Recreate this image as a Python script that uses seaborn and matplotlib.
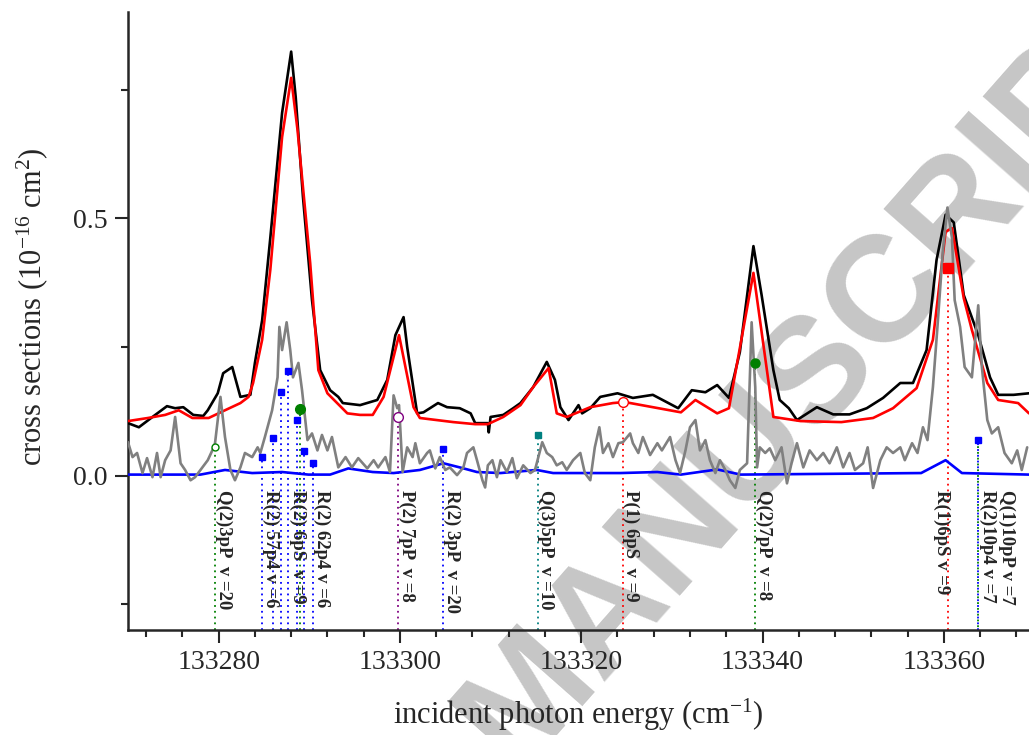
import numpy as np
import pandas as pd
import seaborn as sns
import matplotlib.pyplot as plt
from matplotlib.ticker import MultipleLocator

# measured cross section (black)
black_e = [133270.0, 133271.2, 133272.7, 133274.3, 133275.2, 133276.1, 133277.2, 133278.3, 133278.8, 133279.9,
           133280.5, 133281.5, 133282.4, 133283.5, 133284.0, 133284.8, 133285.7, 133287.0, 133288.0, 133288.5,
           133289.3, 133290.3, 133291.2, 133292.3, 133293.2, 133293.7, 133295.6, 133297.5, 133298.6, 133299.5,
           133300.4, 133300.8, 133301.9, 133302.6, 133304.2, 133305.2, 133306.6, 133307.8, 133308.3, 133309.7,
           133309.8, 133310.0, 133311.4, 133312.5, 133313.3, 133314.7, 133316.2, 133317.1, 133317.7, 133318.6,
           133319.7, 133320.1, 133321.0, 133322.1, 133324.0, 133325.7, 133327.9, 133330.7, 133332.2, 133333.7,
           133335.0, 133336.3, 133337.5, 133339.0, 133339.9, 133341.2, 133341.9, 133342.9, 133343.8, 133346.0,
           133347.8, 133349.6, 133351.5, 133353.3, 133355.2, 133356.6, 133358.1, 133359.2, 133360.2, 133361.1,
           133362.2, 133363.8, 133365.1, 133366.0, 133367.7, 133369.4]
black_y = [0.102, 0.094, 0.114, 0.135, 0.131, 0.133, 0.118, 0.116, 0.127, 0.160,
           0.199, 0.211, 0.153, 0.157, 0.219, 0.302, 0.462, 0.705, 0.824, 0.736,
           0.542, 0.341, 0.205, 0.166, 0.153, 0.141, 0.137, 0.147, 0.186, 0.273,
           0.308, 0.250, 0.121, 0.123, 0.141, 0.133, 0.131, 0.121, 0.102, 0.102,
           0.084, 0.114, 0.118, 0.131, 0.141, 0.172, 0.221, 0.186, 0.133, 0.108,
           0.137, 0.121, 0.131, 0.153, 0.160, 0.151, 0.157, 0.131, 0.166, 0.162,
           0.176, 0.151, 0.240, 0.446, 0.351, 0.205, 0.147, 0.131, 0.108, 0.133,
           0.119, 0.119, 0.131, 0.151, 0.180, 0.180, 0.244, 0.419, 0.507, 0.492,
           0.351, 0.273, 0.191, 0.157, 0.157, 0.160]

# calculated cross section (red)
red_e = [133270.0, 133272.2, 133274.1, 133275.6, 133277.1, 133278.9, 133280.7, 133282.4, 133283.3, 133283.8,
         133284.8, 133285.7, 133287.0, 133288.0, 133288.7, 133290.1, 133291.0, 133292.0, 133294.2, 133295.6,
         133297.0, 133298.2, 133299.9, 133301.5, 133302.2, 133305.9, 133308.3, 133309.7, 133311.4, 133313.3,
         133314.7, 133316.4, 133317.3, 133318.4, 133321.0, 133323.5, 133324.8, 133331.0, 133332.6, 133335.0,
         133336.3, 133339.0, 133341.2, 133344.2, 133348.7, 133352.2, 133354.4, 133357.0, 133358.8, 133360.2,
         133360.9, 133362.2, 133363.1, 133364.8, 133366.0, 133368.2, 133369.4]
red_y = [0.106, 0.112, 0.118, 0.127, 0.112, 0.112, 0.127, 0.141, 0.153, 0.180,
         0.264, 0.400, 0.658, 0.773, 0.672, 0.413, 0.205, 0.160, 0.121, 0.118,
         0.118, 0.153, 0.273, 0.133, 0.112, 0.104, 0.100, 0.100, 0.114, 0.137,
         0.172, 0.209, 0.121, 0.114, 0.133, 0.141, 0.143, 0.123, 0.147, 0.121,
         0.131, 0.394, 0.114, 0.106, 0.104, 0.112, 0.131, 0.170, 0.264, 0.474,
         0.481, 0.345, 0.283, 0.180, 0.147, 0.141, 0.121]

# blue curve
blue_e = [133270.0, 133278.0, 133280.7, 133283.7, 133287.0, 133289.9, 133292.3, 133294.3, 133297.0, 133299.3,
          133302.2, 133304.8, 133306.6, 133308.5, 133311.1, 133315.1, 133316.9, 133324.3, 133328.4, 133331.0,
          133335.0, 133337.6, 133357.5, 133360.2, 133362.0, 133369.4]
blue_y = [0.002, 0.002, 0.011, 0.005, 0.007, 0.002, 0.002, 0.014, 0.007, 0.005,
          0.011, 0.024, 0.016, 0.007, 0.005, 0.011, 0.005, 0.005, 0.007, 0.002,
          0.012, 0.002, 0.005, 0.030, 0.005, 0.002]

# grey curve
grey_e = [133270.0, 133270.5, 133271.0, 133271.6, 133272.1, 133272.7, 133273.2, 133273.6, 133274.1, 133274.7,
          133275.2, 133275.8, 133276.3, 133276.9, 133277.4, 133278.0, 133278.8, 133279.3, 133279.6, 133280.2,
          133280.7, 133281.3, 133281.8, 133282.4, 133282.9, 133283.7, 133284.3, 133284.6, 133285.1, 133285.9,
          133286.5, 133286.7, 133287.0, 133287.5, 133287.9, 133288.2, 133288.8, 133289.2, 133289.8, 133290.3,
          133290.9, 133291.4, 133292.0, 133292.5, 133293.2, 133294.0, 133294.7, 133295.4, 133295.6, 133296.4,
          133297.1, 133297.6, 133298.4, 133298.9, 133299.3, 133299.7, 133299.9, 133300.3, 133300.8, 133301.4,
          133301.7, 133302.2, 133303.0, 133303.3, 133303.9, 133304.4, 133305.0, 133305.5, 133306.3, 133307.0,
          133307.4, 133308.1, 133308.5, 133309.1, 133309.4, 133309.7, 133310.2, 133310.7, 133311.1, 133311.8,
          133312.4, 133312.9, 133313.6, 133314.4, 133314.9, 133315.7, 133316.2, 133316.8, 133317.3, 133317.9,
          133318.4, 133319.1, 133319.9, 133320.4, 133321.0, 133321.5, 133322.0, 133322.4, 133323.0, 133323.5,
          133324.1, 133324.6, 133325.4, 133325.7, 133326.3, 133326.8, 133327.6, 133328.4, 133328.9, 133329.8,
          133330.4, 133330.9, 133331.5, 133332.0, 133332.6, 133333.1, 133333.7, 133334.2, 133334.8, 133335.3,
          133335.9, 133336.4, 133337.0, 133337.5, 133338.3, 133338.8, 133339.2, 133339.4, 133339.7, 133340.3,
          133340.8, 133341.4, 133342.1, 133342.7, 133343.2, 133343.8, 133344.5, 133345.2, 133346.0, 133346.7,
          133347.4, 133348.2, 133348.9, 133349.6, 133350.2, 133351.1, 133351.6, 133352.2, 133353.0, 133353.7,
          133354.4, 133355.2, 133355.7, 133356.5, 133357.1, 133357.7, 133358.2, 133358.8, 133359.3, 133359.9,
          133360.4, 133360.9, 133361.2, 133361.8, 133362.3, 133363.1, 133363.8, 133364.2, 133364.8, 133365.3,
          133366.0, 133366.7, 133367.5, 133368.1, 133368.6, 133369.2]
grey_y = [0.065, 0.036, 0.044, 0.005, 0.034, -0.003, 0.044, -0.003, 0.030, 0.049,
          0.114, 0.024, 0.011, -0.009, -0.003, 0.011, 0.030, 0.049, 0.063, 0.153,
          0.075, 0.011, -0.009, 0.016, 0.044, 0.036, 0.055, 0.044, 0.075, 0.127,
          0.191, 0.289, 0.244, 0.298, 0.244, 0.191, 0.219, 0.166, 0.069, 0.082,
          0.049, 0.079, 0.049, 0.075, 0.016, 0.036, 0.016, 0.034, 0.030, 0.014,
          0.030, 0.016, 0.036, 0.007, 0.156, 0.131, 0.137, 0.007, 0.055, 0.036,
          0.063, 0.024, 0.044, 0.049, 0.014, 0.036, 0.011, 0.016, 0.001, 0.016,
          0.044, 0.055, 0.030, -0.009, -0.023, 0.020, 0.030, -0.003, 0.030, 0.007,
          0.034, -0.005, 0.020, 0.005, 0.011, 0.065, 0.044, 0.036, 0.020, 0.026,
          0.011, 0.030, 0.044, 0.005, -0.009, 0.055, 0.094, 0.044, 0.063, 0.036,
          0.063, 0.065, 0.082, 0.063, 0.044, 0.075, 0.040, 0.063, 0.049, 0.075,
          0.030, 0.005, 0.049, 0.094, 0.108, 0.049, 0.069, 0.030, 0.005, 0.030,
          0.011, -0.009, -0.024, 0.011, 0.024, 0.298, 0.172, 0.016, 0.055, 0.044,
          0.053, 0.030, 0.055, -0.015, 0.024, 0.063, 0.016, 0.049, 0.030, 0.044,
          0.024, 0.055, 0.016, 0.044, 0.011, 0.024, 0.055, -0.024, 0.030, 0.055,
          0.044, 0.055, 0.030, 0.063, 0.044, 0.094, 0.069, 0.172, 0.289, 0.438,
          0.521, 0.462, 0.341, 0.289, 0.211, 0.191, 0.331, 0.211, 0.108, 0.082,
          0.094, 0.044, 0.024, 0.049, 0.011, 0.055]

# assigned transitions: energy, marker height
trans_e = [133279.6, 133284.8, 133286.0, 133286.9, 133287.7, 133288.6, 133289.4, 133290.4, 133289.0,
           133299.8, 133304.8, 133315.2, 133324.6, 133339.2, 133360.5, 133363.8]
trans_y = [0.055, 0.036, 0.073, 0.162, 0.203, 0.108, 0.048, 0.024, 0.129,
           0.114, 0.051, 0.079, 0.143, 0.218, 0.404, 0.069]
trans_color = ['green', 'blue', 'blue', 'blue', 'blue', 'blue', 'blue', 'blue', 'green',
               'purple', 'blue', 'teal', 'red', 'green', 'red', 'blue']
trans_marker = ['o', 's', 's', 's', 's', 's', 's', 's', 'o', 'o', 's', 's', 'o', 'o', 's', 's']
trans_open = [True, False, False, False, False, False, False, False, False,
              True, False, False, True, False, False, False]
trans_size = [5, 4.5, 4.5, 4.5, 4.5, 4.5, 4.5, 4.5, 7, 7, 4.5, 4.5, 7, 6.5, 6.5, 4]

label_e = [133279.6, 133284.8, 133287.8, 133290.4, 133299.8, 133304.8, 133315.1, 133324.5, 133339.2,
           133360.7, 133363.9, 133366.0]
label_text = ['Q(2)3pP  v =20', 'R(2) 57p4 v =6', 'R(2) 6pS  v =9', 'R(2) 62p4 v =6', 'P(2) 7pP  v =8',
              'R(2) 3pP  v =20', 'Q(3)5pP  v =10', 'P(1) 6pS  v =9', 'Q(2)7pP  v =8', 'R(1)6pS v =9',
              'R(2)10p4 v =7', 'Q(1)10pP v =7']
label_ha = ['left'] * 9 + ['right', 'left', 'left']

sns.set_style('ticks')
plt.rcParams['font.family'] = ['Liberation Serif', 'DejaVu Serif']
plt.rcParams['mathtext.fontset'] = 'custom'
plt.rcParams['mathtext.rm'] = 'Liberation Serif'
plt.rcParams['mathtext.it'] = 'Liberation Serif:italic'

fig = plt.figure(figsize=(10.29, 7.35), dpi=100)
ax = fig.add_axes([128 / 1029, 105 / 735, 1 - 128 / 1029, 617.5 / 735])
ax.patch.set_alpha(0)

# watermark behind the data
fig.text(0.795, 0.497, 'MANUSCRIPT', rotation=48.6, rotation_mode='anchor', ha='center', va='center',
         fontsize=108, fontweight='bold', family='Liberation Sans', color='#c6c6c6', zorder=-5)

ymin, ymax = -0.3, 0.9

for e, y, c in zip(trans_e, trans_y, trans_color):
    ax.vlines(e, ymin, y, colors=c, linestyles=(0, (1, 2.2)), linewidth=1.3, zorder=2)
ax.vlines(trans_e[-1], ymin, trans_y[-1], colors='green', linestyles=(1.6, (1, 2.2)), linewidth=1.3, zorder=2)

sns.lineplot(x=black_e, y=black_y, color='black', linewidth=1.9, sort=False, estimator=None, ax=ax, zorder=3)
sns.lineplot(x=red_e, y=red_y, color='red', linewidth=1.9, sort=False, estimator=None, ax=ax, zorder=4)
sns.lineplot(x=blue_e, y=blue_y, color='blue', linewidth=1.9, sort=False, estimator=None, ax=ax, zorder=4)
sns.lineplot(x=grey_e, y=grey_y, color='grey', linewidth=1.9, sort=False, estimator=None, ax=ax, zorder=5)

for e, y, c, m, o, s in zip(trans_e, trans_y, trans_color, trans_marker, trans_open, trans_size):
    ax.plot(e, y, marker=m, ms=s, color=c, mfc='white' if o else c, mec=c, mew=1.0, zorder=6)

for e, t, ha in zip(label_e, label_text, label_ha):
    ax.text(e, -0.027, t, rotation=-90, ha=ha, va='top', fontsize=13.5, fontweight='bold', zorder=7)

ax.set_xlim(133270, 133369.4)
ax.set_ylim(ymin, ymax)
ax.xaxis.set_major_locator(MultipleLocator(20))
ax.xaxis.set_minor_locator(MultipleLocator(4))
ax.yaxis.set_major_locator(MultipleLocator(0.5))
ax.yaxis.set_minor_locator(MultipleLocator(0.25))
ax.yaxis.set_major_formatter(plt.FuncFormatter(lambda v, p: '%.1f' % v))
ax.tick_params(which='major', direction='out', length=9.5, width=1.5, labelsize=20, pad=5)
ax.tick_params(which='minor', direction='out', length=5, width=1.5)
sns.despine(ax=ax, top=True, right=True)
for sp in ['left', 'bottom']:
    ax.spines[sp].set_linewidth(1.8)

ax.set_xlabel('incident photon energy (cm$^{-1}$)', fontsize=22)
ax.set_ylabel('cross sections (10$^{-16}$ cm$^{2}$)', fontsize=22)
ax.xaxis.set_label_coords(0.5, -0.108)
ax.yaxis.set_label_coords(-0.087, 0.523)

fig.savefig('out.png', dpi=100)
